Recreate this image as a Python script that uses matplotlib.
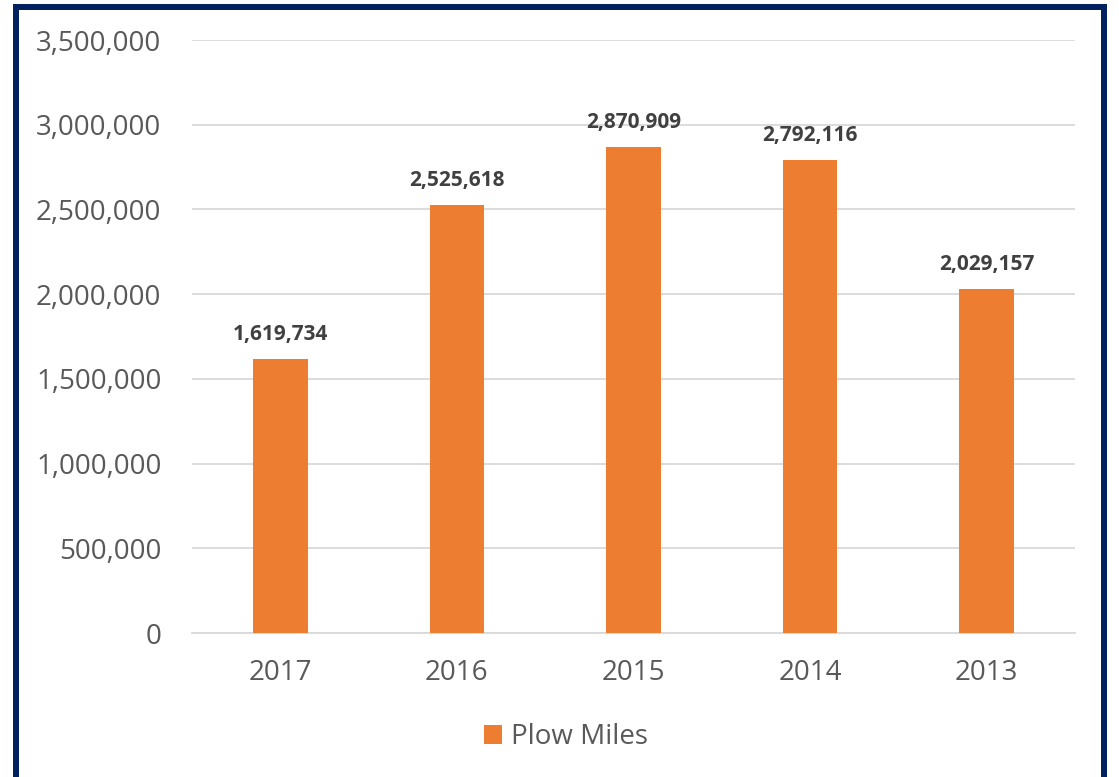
import matplotlib
matplotlib.use("Agg")
import matplotlib.pyplot as plt
from matplotlib.patches import Rectangle
from matplotlib.ticker import FuncFormatter, MultipleLocator

years = ["2017", "2016", "2015", "2014", "2013"]
plow_miles = [1619734, 2525618, 2870909, 2792116, 2029157]
series_name = "Plow Miles"

W, H = 1119, 777
fig = plt.figure(figsize=(W / 100, H / 100), dpi=100)
plt.rcParams['font.family'] = ['Open Sans', 'DejaVu Sans']

ax = fig.add_axes([192 / W, 1 - 633 / H, (1075 - 192) / W, (633 - 40) / H])
x = list(range(len(years)))
bars = ax.bar(x, plow_miles, width=0.31, color="#ED7D31", label=series_name, zorder=3)

ax.set_xlim(-0.5, len(years) - 0.5)
ax.set_ylim(0, 3500000)
ax.yaxis.set_major_locator(MultipleLocator(500000))
ax.yaxis.set_major_formatter(FuncFormatter(lambda v, p: f"{int(v):,}"))
ax.set_xticks(x)
ax.set_xticklabels(years)
ax.grid(axis="y", color="#D9D9D9", linewidth=1.3, zorder=0)
for s in ["top", "right", "left"]:
    ax.spines[s].set_visible(False)
ax.spines["bottom"].set_color("#D9D9D9")
ax.spines["bottom"].set_linewidth(1.3)
ax.tick_params(axis="both", length=0, labelsize=20, colors="#595959")
ax.tick_params(axis="y", pad=22)
ax.tick_params(axis="x", pad=19)

for xi, v in zip(x, plow_miles):
    ax.annotate(f"{v:,}", (xi, v), xytext=(0, 10), textcoords="offset points",
                ha="center", va="bottom", fontsize=15, fontweight="bold", color="#404040")

leg = fig.legend(handles=[bars], labels=[series_name], loc="center",
                 bbox_to_anchor=(566 / W, 1 - 737 / H), frameon=False,
                 fontsize=20, handlelength=0.65, handleheight=0.65, handletextpad=0.3,
                 labelcolor="#595959")

border = Rectangle((16 / W, -0.05), (1104 - 16) / W, (1 - 7 / H) + 0.05,
                   transform=fig.transFigure, fill=False, edgecolor="#002060",
                   linewidth=4.3, zorder=10)
fig.patches.append(border)

fig.savefig("out.png", dpi=100, facecolor="white")
